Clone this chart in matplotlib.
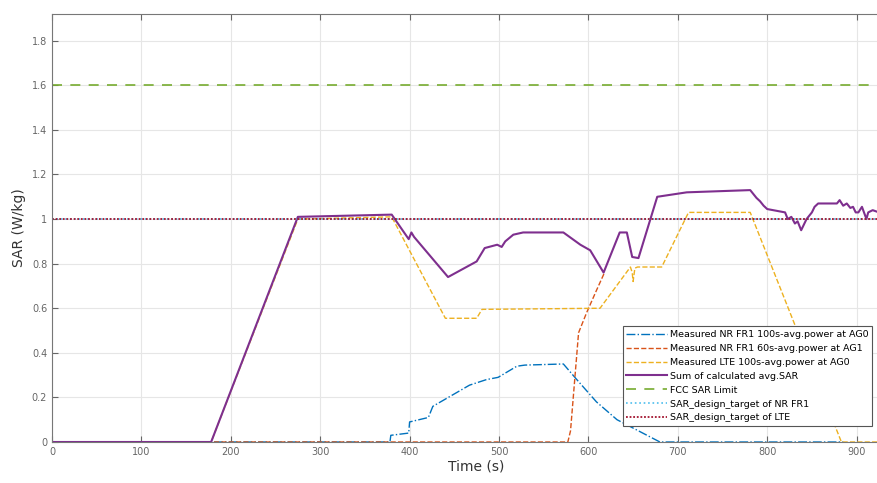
import matplotlib
matplotlib.use("Agg")
import matplotlib.pyplot as plt
import numpy as np

# Measured NR FR1 100s-avg power at AG0
t_nr100 = [0, 378, 379, 399, 400, 421, 426, 467, 486, 499, 520, 529, 572, 587, 609, 632, 680, 885]
sar_nr100 = [0, 0, 0.03, 0.04, 0.09, 0.11, 0.16, 0.255, 0.28, 0.29, 0.34, 0.345, 0.35, 0.28, 0.18, 0.10, 0, 0]

# Measured NR FR1 60s-avg power at AG1
t_nr60 = [0, 577, 580, 589, 598, 609, 618]
sar_nr60 = [0, 0, 0.05, 0.49, 0.58, 0.68, 0.76]

# Measured LTE 100s-avg power at AG0
t_lte = [0, 178, 275, 380, 440, 475, 481, 613, 647, 649, 650, 652, 655, 682, 712, 781, 883, 930]
sar_lte = [0, 0, 1.0, 1.01, 0.555, 0.555, 0.595, 0.60, 0.785, 0.76, 0.72, 0.78, 0.785, 0.785, 1.03, 1.03, 0, 0]

# Sum of calculated avg.SAR
t_sum = [0, 178, 275, 380, 399, 402, 405, 424, 443, 475, 484, 498, 503, 507, 516, 527, 572,
         591, 602, 617, 635, 643, 649, 656, 677, 710, 781, 788, 792, 796, 800, 820, 823, 827, 831, 834, 838,
         844, 850, 853, 857, 862, 866, 871, 878, 881, 885, 889, 893, 896, 899, 902, 906, 911, 913, 918, 925, 930]
sar_sum = [0, 0, 1.01, 1.02, 0.91, 0.94, 0.92, 0.83, 0.74, 0.81, 0.87, 0.885, 0.875, 0.90, 0.93, 0.94, 0.94,
           0.885, 0.86, 0.76, 0.94, 0.94, 0.83, 0.825, 1.10, 1.12, 1.13, 1.095, 1.08, 1.06, 1.045, 1.03, 1.0, 1.01,
           0.98, 0.99, 0.95, 1.0, 1.03, 1.055, 1.07, 1.07, 1.07, 1.07, 1.07, 1.085, 1.06, 1.07, 1.05, 1.055, 1.03,
           1.03, 1.055, 1.0, 1.03, 1.04, 1.03, 1.04]

fcc_limit = 1.6
target_nr = 1.0
target_lte = 1.0
t_range = [0, 930]

labels = ['Measured NR FR1 100s-avg.power at AG0',
          'Measured NR FR1 60s-avg.power at AG1',
          'Measured LTE 100s-avg.power at AG0',
          'Sum of calculated avg.SAR',
          'FCC SAR Limit',
          'SAR_design_target of NR FR1',
          'SAR_design_target of LTE']

fig = plt.figure(figsize=(8.77, 4.83), dpi=100)
ax = fig.add_axes([52 / 877, 1 - 442 / 483, (0.894 * 950) / 877, (442 - 14) / 483])

ax.plot(t_nr100, sar_nr100, color='#0072BD', linestyle='-.', lw=1.0, label=labels[0])
ax.plot(t_nr60, sar_nr60, color='#D95319', linestyle='--', lw=1.0, label=labels[1])
ax.plot(t_lte, sar_lte, color='#EDB120', linestyle='--', lw=1.0, label=labels[2])
ax.plot(t_sum, sar_sum, color='#7E2F8E', linestyle='-', lw=1.5, label=labels[3])
ax.plot(t_range, [fcc_limit] * 2, color='#77AC30', linestyle=(0, (6, 5)), lw=1.2, label=labels[4])
ax.plot(t_range, [target_nr] * 2, color='#4DBEEE', linestyle=':', lw=1.2, label=labels[5])
ax.plot(t_range, [target_lte] * 2, color='#A2142F', linestyle=(0, (1, 1)), lw=1.3, label=labels[6])

ax.set_xlim(0, 950)
ax.set_ylim(0, 1.92)
ax.set_xticks(np.arange(0, 1000, 100))
ax.set_yticks(np.arange(0, 1.81, 0.2))
ax.set_yticklabels(['0', '0.2', '0.4', '0.6', '0.8', '1', '1.2', '1.4', '1.6', '1.8'])
ax.tick_params(direction='in', top=True, right=True, labelsize=7, colors='#666666', length=4)
ax.grid(True, color='#e6e6e6', lw=0.8)
ax.set_axisbelow(True)
for s in ax.spines.values():
    s.set_color('#777777')
ax.set_xlabel('Time (s)', fontsize=10, color='#333333', labelpad=2)
ax.set_ylabel('SAR (W/kg)', fontsize=10, color='#333333', labelpad=4)

leg = ax.legend(loc='lower right', bbox_to_anchor=(1.0, 1 - 431 / 483), bbox_transform=fig.transFigure,
                fontsize=6.8, handlelength=4.3, labelspacing=0.52, borderpad=0.4,
                handletextpad=0.3, fancybox=False, framealpha=1)
leg.get_frame().set_edgecolor('#555555')
leg.get_frame().set_linewidth(0.8)

plt.savefig('out.png', dpi=100)
